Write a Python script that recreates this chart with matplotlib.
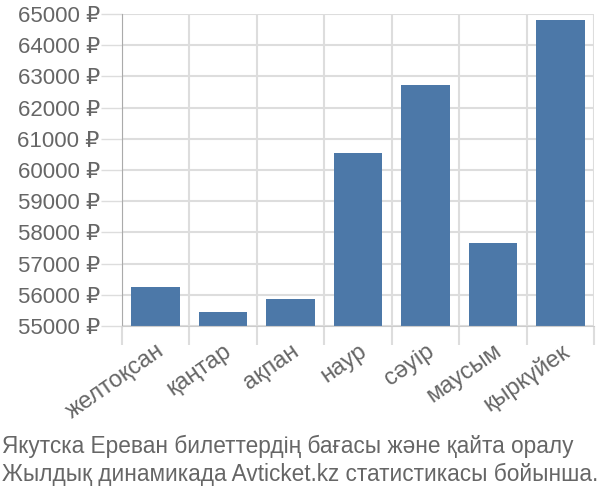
import numpy as np
import matplotlib.pyplot as plt
from matplotlib.ticker import FuncFormatter

plt.rcParams['font.family'] = ['Liberation Sans', 'DejaVu Sans']

months = ["желтоқсан", "қаңтар", "ақпан", "наур", "сәуір", "маусым", "қыркүйек"]
prices = [56250, 55460, 55870, 60555, 62715, 57650, 64800]
y_ticks = list(range(55000, 65001, 1000))
caption = ["Якутска Ереван билеттердің бағасы және қайта оралу",
           "Жылдық динамикада Avticket.kz статистикасы бойынша."]

bar_color = "#4c78a8"
text_color = "#666666"
grid_color = "#dddddd"

fig = plt.figure(figsize=(6, 5), dpi=100)
ax = fig.add_axes([0.2033, 0.348, 0.7867, 0.624])

x = np.arange(len(months))
ax.bar(x, np.array(prices) - 55000, bottom=55000, width=0.72, color=bar_color, zorder=2)

ax.set_xlim(-0.5, len(months) - 0.5)
ax.set_ylim(55000, 65000)

# y axis
ax.set_yticks(y_ticks)
ax.yaxis.set_major_formatter(FuncFormatter(lambda v, p: f"{int(v)} ₽"))
ax.tick_params(axis='y', length=15, width=1, color=grid_color, pad=1,
               labelsize=16, labelcolor=text_color)
ax.grid(axis='y', color=grid_color, linewidth=1.5, zorder=0)

# x axis: labels at centres, grid lines at band edges
ax.set_xticks(x)
ax.set_xticklabels(months, rotation=35, ha='right', va='top', rotation_mode='anchor')
ax.tick_params(axis='x', which='major', length=0, pad=10, labelsize=17, labelcolor=text_color)
ax.set_xticks(np.arange(len(months) + 1) - 0.5, minor=True)
ax.tick_params(axis='x', which='minor', length=14, width=1.5, color=grid_color)
ax.grid(axis='x', which='minor', color=grid_color, linewidth=1.5, zorder=0)
ax.get_xticklines(minor=True)[0].set_color("#aaaaaa")

for s in ['top', 'right']:
    ax.spines[s].set_visible(False)
ax.spines['bottom'].set_color("#cccccc")
ax.spines['left'].set_color("#aaaaaa")

fig.text(0.003, 0.108, caption[0], fontsize=16.3, color=text_color, va='center', ha='left')
fig.text(0.003, 0.052, caption[1], fontsize=16.3, color=text_color, va='center', ha='left')

fig.savefig("out.png", dpi=100)
